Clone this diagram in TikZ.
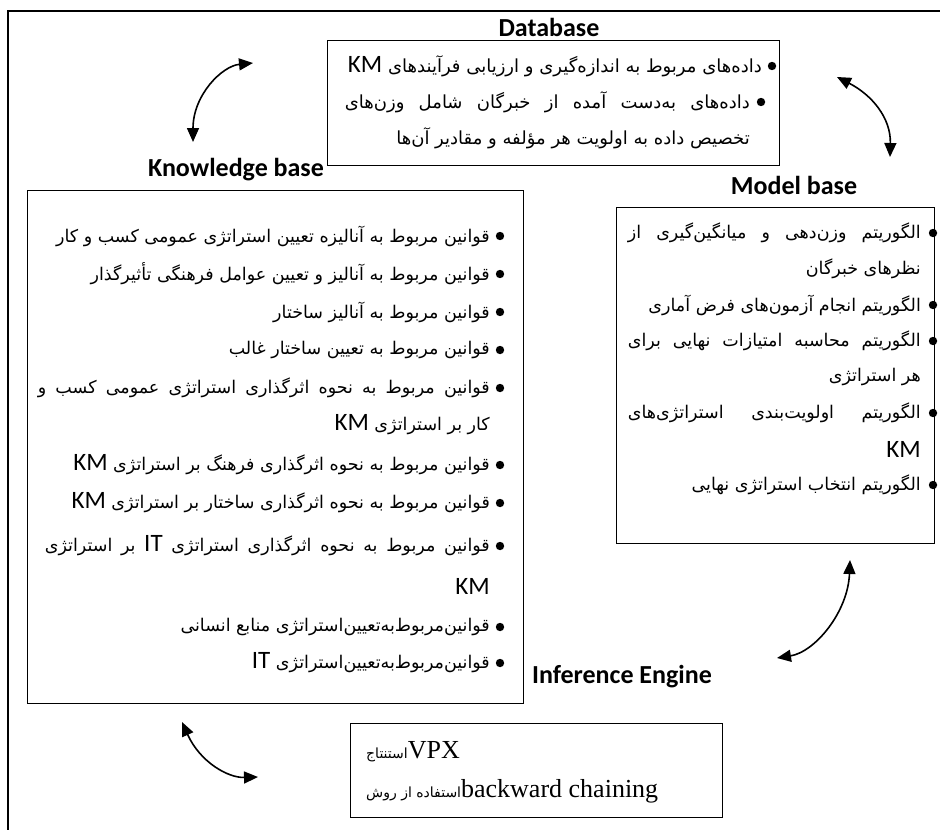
\documentclass[tikz,border=0pt]{standalone}
\usepackage{fontspec}
\setmainfont{Liberation Serif}
\newfontfamily\fa[Script=Arabic]{DejaVu Sans}
\newfontfamily\carl{Carlito}
\usetikzlibrary{arrows.meta}
\TeXXeTstate=1
\newcommand{\fasize}{\fontsize{17.5}{20}\selectfont}
\newcommand{\enw}[1]{\beginL{\carl\fontsize{25}{27}\selectfont #1}\endL}

\begin{document}
\begin{tikzpicture}[x=1pt,y=-1pt,
    box/.style={draw,line width=1.3pt,anchor=north west,inner sep=0},
    lbl/.style={font=\carl\bfseries\fontsize{26}{30}\selectfont,inner sep=0},
    fa/.style={anchor=east,inner sep=0,font=\fa\fasize},
    fadb/.style={fa,font=\fa\fontsize{18}{20}\selectfont},
    arr/.style={line width=1.6pt,{Triangle[length=14pt,width=12pt]}-{Triangle[length=14pt,width=12pt]}}]
    \useasboundingbox (0,0) rectangle (940,830);
    \draw[line width=1.3pt] (940,11) -- (8,11) -- (8,830);

    % Database
    \node[lbl] (dblbl) at (549,27) {Database};
    \node[box,minimum width=452pt,minimum height=125pt] (db) at (327,40) {};
    \node[fadb] (db1) at (762,66) {\beginR داده^^^^200cهای مربوط به اندازه^^^^200cگیری و ارزیابی فرآیندهای \enw{KM}\endR};
    \node[fadb] (db2) at (750,102) {\hbox to 405pt{\beginR داده^^^^200cهای به^^^^200cدست آمده از خبرگان شامل وزن^^^^200cهای\endR}};
    \node[fadb] (db3) at (750,138) {\beginR تخصیص داده به اولویت هر مؤلفه و مقادیر آن^^^^200cها\endR};
    \fill (772,66) circle (4.2pt) (761,102) circle (4.2pt);

    % Knowledge base
    \node[lbl] (kblbl) at (236,170) {Knowledge base};
    \node[box,minimum width=496pt,minimum height=513pt] (kb) at (27,190) {};
    \node[fa] (kb1) at (490,236) {\beginR قوانین مربوط به آنالیزه تعیین استراتژی عمومی کسب و کار\endR};
    \node[fa] (kb2) at (490,274) {\beginR قوانین مربوط به آنالیز و تعیین عوامل فرهنگی تأثیرگذار\endR};
    \node[fa] (kb3) at (490,312) {\beginR قوانین مربوط به آنالیز ساختار\endR};
    \node[fa] (kb4) at (490,350) {\beginR قوانین مربوط به تعیین ساختار غالب\endR};
    \node[fa] (kb5) at (490,388) {\hbox to 452pt{\beginR قوانین مربوط به نحوه اثرگذاری استراتژی عمومی کسب و\endR}};
    \node[fa] (kb5b) at (490,425) {\beginR کار بر استراتژی \enw{KM}\endR};
    \node[fa] (kb6) at (490,465) {\beginR قوانین مربوط به نحوه اثرگذاری فرهنگ بر استراتژی \enw{KM}\endR};
    \node[fa] (kb7) at (490,503) {\beginR قوانین مربوط به نحوه اثرگذاری ساختار بر استراتژی \enw{KM}\endR};
    \node[fa] (kb8) at (490,546) {\hbox to 445pt{\beginR قوانین مربوط به نحوه اثرگذاری استراتژی \enw{IT} بر استراتژی\endR}};
    \node[fa] (kb8b) at (490,586) {\enw{KM}};
    \node[fa] (kb9) at (490,627) {\beginR قوانین^^^^200cمربوط^^^^200cبه^^^^200cتعیین^^^^200cاستراتژی منابع انسانی\endR};
    \node[fa] (kb10) at (490,663) {\beginR قوانین^^^^200cمربوط^^^^200cبه^^^^200cتعیین^^^^200cاستراتژی \enw{IT}\endR};
    \foreach \y in {236,274,312,350,388,465,503,546,627,663}
        \fill (500,\y) circle (4.2pt);

    % Model base
    \node[lbl] (mblbl) at (794,185) {Model base};
    \node[box,minimum width=318pt,minimum height=336pt] (mb) at (616,207) {};
    \node[fa] (mb1) at (921,233) {\hbox to 293pt{\beginR الگوریتم وزن^^^^200cدهی و میانگین^^^^200cگیری از\endR}};
    \node[fa] (mb1b) at (921,269) {\beginR نظرهای خبرگان\endR};
    \node[fa] (mb2) at (921,305) {\beginR الگوریتم انجام آزمون^^^^200cهای فرض آماری\endR};
    \node[fa] (mb3) at (921,341) {\hbox to 293pt{\beginR الگوریتم محاسبه امتیازات نهایی برای\endR}};
    \node[fa] (mb3b) at (921,377) {\beginR هر استراتژی\endR};
    \node[fa] (mb4) at (921,413) {\hbox to 293pt{\beginR الگوریتم اولویت^^^^200cبندی استراتژی^^^^200cهای\endR}};
    \node[fa] (mb4b) at (921,449) {\enw{KM}};
    \node[fa] (mb5) at (921,485) {\beginR الگوریتم انتخاب استراتژی نهایی\endR};
    \foreach \y in {233,305,341,413,485}
        \fill (933,\y) circle (4.2pt);

    % Inference engine
    \node[lbl] (ielbl) at (622,677) {Inference Engine};
    \node[box,minimum width=372pt,minimum height=94pt] (ie) at (350,723) {};
    \node[anchor=west,inner sep=0] (ie1) at (366,752) {{\fa\fontsize{14}{16}\selectfont\beginR استنتاج\endR}\fontsize{26}{30}\selectfont VPX};
    \node[anchor=west,inner sep=0] (ie2) at (366,791) {{\fa\fontsize{14}{16}\selectfont\beginR استفاده از روش\endR}\fontsize{26}{30}\selectfont backward chaining};

    % arrows
    \coordinate (tlA) at (193,142);
    \coordinate (tlB) at (253,63);
    \coordinate (trA) at (837,77);
    \coordinate (trB) at (890,157);
    \coordinate (meA) at (850,560);
    \coordinate (meB) at (777,658);
    \coordinate (blA) at (182,722);
    \coordinate (blB) at (258,777);
    \draw[arr] (tlA) .. controls (193,95) and (222,66) .. (tlB);
    \draw[arr] (trA) .. controls (872,95) and (891,118) .. (trB);
    \draw[arr] (meA) .. controls (848,612) and (815,652) .. (meB);
    \draw[arr] (blA) .. controls (200,762) and (228,778) .. (blB);
\end{tikzpicture}
\end{document}
